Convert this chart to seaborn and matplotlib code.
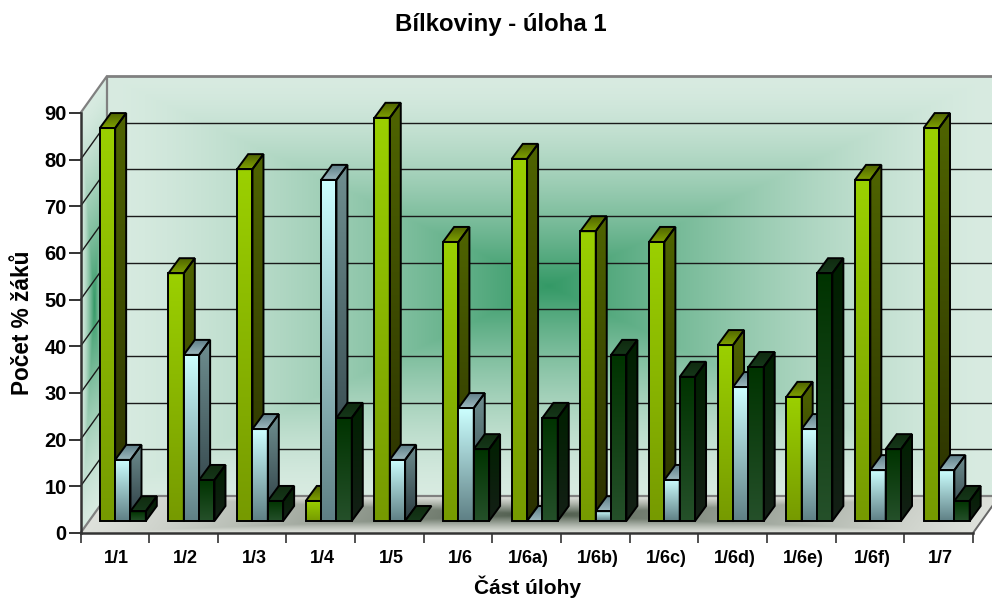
import numpy as np
import pandas as pd
import seaborn as sns
import matplotlib
matplotlib.use("Agg")
import matplotlib.pyplot as plt
from matplotlib.colors import to_rgb
from matplotlib.patches import Polygon
from matplotlib.transforms import Affine2D, IdentityTransform

categories = ["1/1", "1/2", "1/3", "1/4", "1/5", "1/6", "1/6a)", "1/6b)",
              "1/6c)", "1/6d)", "1/6e)", "1/6f)", "1/7"]
series_a = [84.2, 53.1, 75.4, 4.3, 86.4, 59.8, 77.6, 62.1, 59.8, 37.7, 26.6, 73.1, 84.2]
series_b = [13.1, 35.6, 19.7, 73.1, 13.1, 24.2, 0.0, 2.1, 8.8, 28.7, 19.7, 10.9, 10.9]
series_c = [2.1, 8.8, 4.3, 22.1, 0.0, 15.4, 22.1, 35.6, 30.9, 33.0, 53.1, 15.4, 4.3]
y_ticks = list(range(0, 100, 10))

sns.set_theme(style="white")
plt.rcParams["font.family"] = ["Liberation Sans", "DejaVu Sans"]
plt.rcParams["font.weight"] = "bold"

W, H = 992, 600
FRONT_L, FRONT_R, FRONT_B, FRONT_T = 80.5, 973.0, 67.0, 487.0   # y measured upward
DEPTH = (26.5, 37.0)       # shift from the front plane to the back wall
BAR_SHIFT = (8.0, 12.0)    # bars stand in the middle of the floor
BAR_DEPTH = (11.0, 15.0)

fig = plt.figure(figsize=(W / 100, H / 100), dpi=100, facecolor="white")
ax = fig.add_axes([FRONT_L / W, FRONT_B / H, (FRONT_R - FRONT_L) / W, (FRONT_T - FRONT_B) / H])
ax.patch.set_alpha(0)

df = pd.DataFrame({
    "cat": categories * 3,
    "val": series_a + series_b + series_c,
    "series": ["a"] * 13 + ["b"] * 13 + ["c"] * 13,
})
sns.barplot(data=df, x="cat", y="val", hue="series", order=categories,
            palette={"a": "#8FBF00", "b": "#9FCFCF", "c": "#143F18"},
            width=0.67, gap=0, legend=False, ax=ax, errorbar=None)
ax.set_xlim(-0.5, 12.5)
ax.set_ylim(0, 90)
ax.set_autoscale_on(False)
ident = IdentityTransform()


def paint(rgb, extent, poly, z):
    """Paint an RGB array over a display-space extent, clipped to a polygon."""
    im = ax.imshow(rgb, extent=extent, transform=ident, aspect="auto",
                   interpolation="bilinear", zorder=z, origin="upper")
    im.set_clip_box(fig.bbox)
    im.set_clip_path(Polygon(poly, closed=True, transform=ident))


def vertical(poly, top, bottom, z):
    """Top-to-bottom colour ramp filling a polygon."""
    pts = np.asarray(poly)
    t = np.linspace(0, 1, 128)[:, None, None]
    rgb = (1 - t) * np.array(to_rgb(top))[None, None, :] + t * np.array(to_rgb(bottom))[None, None, :]
    x0, x1 = pts[:, 0].min(), pts[:, 0].max()
    y0, y1 = pts[:, 1].min(), pts[:, 1].max()
    paint(rgb, (x0, max(x1, x0 + 1), y0, max(y1, y0 + 1)), poly, z)


def box_ramp(u, v, edge, centre, power):
    t = np.clip(1 - np.maximum(np.abs(u), np.abs(v)), 0, 1) ** power
    return (1 - t[..., None]) * np.array(to_rgb(edge)) + t[..., None] * np.array(to_rgb(centre))


# Back wall
bx0, bx1 = FRONT_L + DEPTH[0], W + 8
by0, by1 = FRONT_B + DEPTH[1], FRONT_T + DEPTH[1]
xx, yy = np.meshgrid(np.linspace(bx0, bx1, 500), np.linspace(by1, by0, 300))
paint(box_ramp((xx - 549) / 442, (yy - (by0 + by1) / 2) / ((by1 - by0) / 2), "#D8EBE1", "#349966", 1.5),
      (bx0, bx1, by0, by1), [(bx0, by0), (bx1, by0), (bx1, by1), (bx0, by1)], 0.1)

# Left wall, sheared along the depth direction
xx, yy = np.meshgrid(np.linspace(FRONT_L, bx0, 120), np.linspace(by1, FRONT_B, 300))
base = yy - (xx - FRONT_L) * DEPTH[1] / DEPTH[0]
paint(box_ramp((xx - (FRONT_L + DEPTH[0] / 2)) / (DEPTH[0] / 2),
               (base - (FRONT_B + FRONT_T) / 2) / ((FRONT_T - FRONT_B) / 2), "#D8EBE1", "#349966", 1.4),
      (FRONT_L, bx0, FRONT_B, by1),
      [(FRONT_L, FRONT_B), (bx0, by0), (bx0, by1), (FRONT_L, FRONT_T)], 0.1)

# Floor
xx, yy = np.meshgrid(np.linspace(FRONT_L, bx1 + 30, 600), np.linspace(by0, FRONT_B, 80))
shear = xx - (yy - FRONT_B) * DEPTH[0] / DEPTH[1]
paint(box_ramp((shear - 527) / 447, (yy - (FRONT_B + by0) / 2) / (DEPTH[1] / 2), "#DEE1DB", "#4A5848", 1.25),
      (FRONT_L, bx1 + 30, FRONT_B, by0),
      [(FRONT_L, FRONT_B), (FRONT_R, FRONT_B), (FRONT_R + DEPTH[0], by0), (bx0, by0)], 0.1)


def seg(xs, ys, color, lw, z=0.5):
    ax.plot(xs, ys, color=color, lw=lw, transform=ident, clip_on=False, zorder=z,
            solid_capstyle="butt")


# Walls' outlines
GREY = "#808080"
seg([FRONT_L, bx0, bx0], [FRONT_T, by1, by0], GREY, 1.6)
seg([bx0, bx1], [by1, by1], GREY, 2.0)
seg([FRONT_L, bx0, bx1], [FRONT_B, by0, by0], GREY, 1.6)
seg([FRONT_R, FRONT_R + DEPTH[0]], [FRONT_B, by0], "#666666", 1.4)

# Gridlines running over the back wall and down the left wall
for v in y_ticks[1:-1]:
    fx, fy = ax.transData.transform((-0.5, v))
    seg([fx, fx + DEPTH[0]], [fy, fy + DEPTH[1]], "#1A1A1A", 1.0, 0.6)
    seg([fx + DEPTH[0], bx1], [fy + DEPTH[1]] * 2, "#1A1A1A", 1.0, 0.6)

# Each series' colour ramps: front, side and top faces
ramps = [
    {"front": ("#9BD000", "#769A00"), "side": ("#4F6400", "#2A3000"), "top": ("#4F6400", "#7FA000")},
    {"front": ("#CCFFFF", "#5F8085"), "side": ("#6F8F90", "#2A3A40"), "top": ("#5F7F88", "#9DB9BF")},
    {"front": ("#003300", "#25502A"), "side": ("#002000", "#141F16"), "top": ("#0F2A0F", "#16381A")},
]
shift = Affine2D().translate(*BAR_SHIFT)
items = []
for s, container in enumerate(ax.containers):
    for patch in container.patches:
        patch.set_transform(ax.transData + shift)
        items.append((patch.get_x(), s, patch))
items.sort(key=lambda it: it[0])

EDGE = dict(closed=True, fill=False, edgecolor="black", linewidth=1.4,
            transform=ident, clip_on=False, joinstyle="miter")
for i, (_, s, patch) in enumerate(items):
    ext = patch.get_window_extent()
    x0, x1, y0, y1 = ext.x0, ext.x1, ext.y0, ext.y1
    dx, dy = BAR_DEPTH
    z = 5 + i
    front = [(x0, y0), (x1, y0), (x1, y1), (x0, y1)]
    side = [(x1, y0), (x1 + dx, y0 + dy), (x1 + dx, y1 + dy), (x1, y1)]
    top = [(x0, y1), (x1, y1), (x1 + dx, y1 + dy), (x0 + dx, y1 + dy)]
    r = ramps[s]
    if y1 - y0 > 0.5:
        vertical(side, *r["side"], z)
        vertical(front, *r["front"], z + 0.1)
        ax.add_patch(Polygon(side, zorder=z + 0.3, **EDGE))
        ax.add_patch(Polygon(front, zorder=z + 0.3, **EDGE))
    vertical(top, *r["top"], z + 0.2)
    ax.add_patch(Polygon(top, zorder=z + 0.3, **EDGE))
    patch.set_visible(False)

# Axes, ticks and labels
sns.despine(ax=ax, top=True, right=True)
for name in ("left", "bottom"):
    ax.spines[name].set_color("#333333")
    ax.spines[name].set_linewidth(1.8)
ax.set_yticks(y_ticks)
ax.set_yticklabels([str(v) for v in y_ticks], fontsize=14.5, fontweight="bold", color="black")
ax.tick_params(axis="y", left=True, length=9, width=1.4, color="#333333", pad=1)
ax.set_xticks(range(len(categories)))
ax.set_xticklabels(categories, fontsize=13, fontweight="bold", color="black")
ax.set_xticks(np.arange(-0.5, 13), minor=True)
ax.tick_params(axis="x", which="major", bottom=False, length=0, pad=12)
ax.tick_params(axis="x", which="minor", bottom=True, length=7, width=1.2, color="#333333")
for label in ax.get_xticklabels():
    label.set_transform(label.get_transform() + Affine2D().translate(2, 0))
ax.set_xlabel("")
ax.set_ylabel("")

fig.text(501 / W, 1 - 25 / H, "Bílkoviny - úloha 1", ha="center", va="center",
         fontsize=17.3, fontweight="bold", color="black")
fig.text(527 / W, 1 - 594 / H, "Část úlohy", ha="center", va="baseline",
         fontsize=15, fontweight="bold", color="black")
fig.text(23 / W, 1 - 323 / H, "Počet % žáků", ha="center", va="center", rotation=90,
         fontsize=16.3, fontweight="bold", color="black")

fig.savefig("out.png", dpi=100)
